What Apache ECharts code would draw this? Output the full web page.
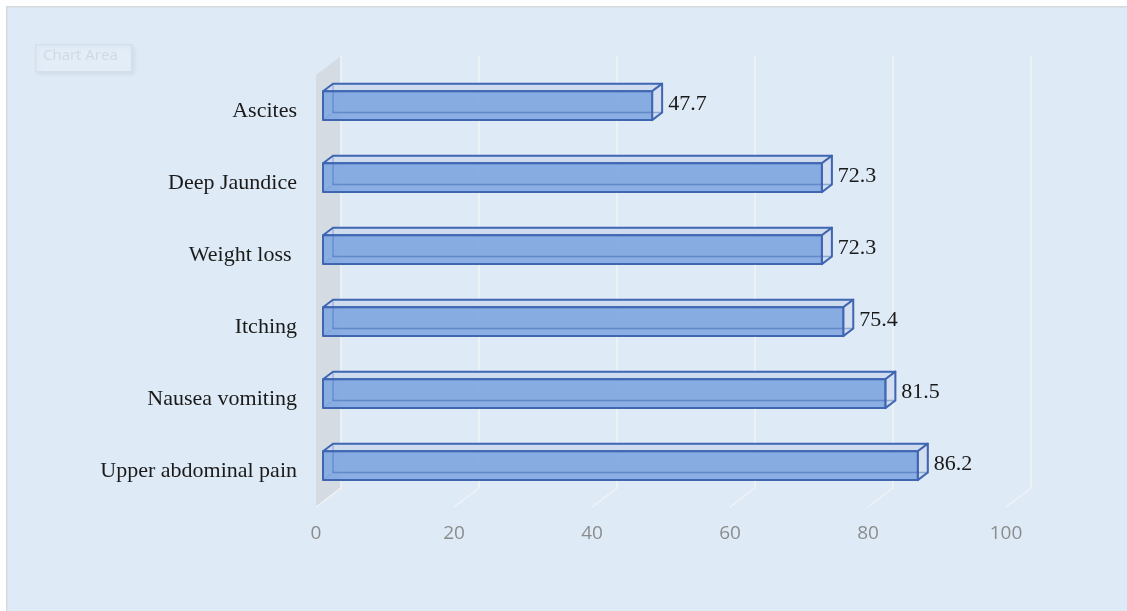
<!DOCTYPE html>
<html>
<head>
<meta charset="utf-8">
<script src="https://cdn.jsdelivr.net/npm/echarts@6/dist/echarts.min.js"></script>
<style>
html,body{margin:0;padding:0;background:#fff;}
#chart{width:1127px;height:611px;}
</style>
</head>
<body>
<div id="chart"></div>
<script>
// Data
const categories = ['Upper abdominal pain', 'Nausea vomiting', 'Itching', 'Weight loss ', 'Deep Jaundice', 'Ascites'];
const values = [86.2, 81.5, 75.4, 72.3, 72.3, 47.7];
const xTicks = [0, 20, 40, 60, 80, 100];

// 3D depth vector (front plane -> back plane), in pixels
const DX = 25, DY = -19;
const F0 = 0.28, F1 = 0.68;

const chart = echarts.init(document.getElementById('chart'), null, {renderer: 'canvas'});

function P(x, y, f) { return [x + f * DX, y + f * DY]; }

function renderFrame(params, api) {
  const t = api.value(0);
  const cs = params.coordSys;
  const bottom = cs.y + cs.height;
  const top = cs.y;
  const x = api.coord([t, 0])[0];
  const children = [];
  if (t === 0) {
    children.push({
      type: 'polygon',
      shape: {points: [[x, bottom], P(x, bottom, 1), P(x, top, 1), [x, top]]},
      style: {fill: '#d5dbe3'},
      z2: 1
    });
  }
  const fb = [x, bottom];
  const bb = P(x, bottom, 1);
  const bt = P(x, top, 1);
  children.push({
    type: 'polyline',
    shape: {points: [fb, bb, bt]},
    style: {stroke: '#f1f3f6', lineWidth: 1.5, fill: null},
    z2: 2
  });
  return {type: 'group', children: children};
}

function renderBar(params, api) {
  const v = api.value(0);
  const i = api.value(1);
  const p0 = api.coord([0, i]);
  const p1 = api.coord([v, i]);
  const h = api.size([0, 1])[1] * 0.2;
  const x0 = p0[0], x1 = p1[0];
  const yt = p0[1] - h, yb = p0[1] + h;
  const FTL = P(x0, yt, F0), FTR = P(x1, yt, F0), FBR = P(x1, yb, F0), FBL = P(x0, yb, F0);
  const BTL = P(x0, yt, F1), BTR = P(x1, yt, F1), BBR = P(x1, yb, F1), BBL = P(x0, yb, F1);
  const edge = '#3f66b1';
  const hidden = 'rgba(63,102,177,0.55)';
  const children = [
    {type: 'polygon', shape: {points: [BTL, BTR, BBR, BBL]}, style: {fill: 'rgba(134,170,224,0.35)', stroke: hidden, lineWidth: 1.5}, z2: 10},
    {type: 'line', shape: {x1: BBL[0], y1: BBL[1], x2: FBL[0], y2: FBL[1]}, style: {stroke: hidden, lineWidth: 1.5}, z2: 11},
    {type: 'polygon', shape: {points: [FTL, FTR, BTR, BTL]}, style: {fill: '#cfdcf0', stroke: edge, lineWidth: 2, lineJoin: 'round'}, z2: 12},
    {type: 'polygon', shape: {points: [FTR, BTR, BBR, FBR]}, style: {fill: '#d3def0', stroke: edge, lineWidth: 2, lineJoin: 'round'}, z2: 12},
    {type: 'polygon', shape: {points: [FTL, FTR, FBR, FBL]}, style: {fill: 'rgba(128,166,224,0.88)', stroke: edge, lineWidth: 2, lineJoin: 'round'}, z2: 13},
    {type: 'line', shape: {x1: BBL[0], y1: BBL[1], x2: BBR[0], y2: BBR[1]}, style: {stroke: 'rgba(63,102,177,0.45)', lineWidth: 1.5}, z2: 14},
    {type: 'line', shape: {x1: BTL[0], y1: BTL[1], x2: BBL[0], y2: BBL[1]}, style: {stroke: 'rgba(63,102,177,0.35)', lineWidth: 1.5}, z2: 14},
    {type: 'text', style: {
      text: String(v), x: BTR[0] + 6, y: (FTL[1] + FBL[1]) / 2 - 1,
      textAlign: 'left', textVerticalAlign: 'middle',
      font: '22px "Liberation Serif", "DejaVu Serif", serif', fill: '#1a1a1a'
    }, z2: 20}
  ];
  return {type: 'group', children: children};
}

const option = {
  backgroundColor: '#ffffff',
  animation: false,
  graphic: [
    {type: 'rect', left: 6, top: 6, shape: {width: 1130, height: 620}, style: {fill: '#deeaf6', stroke: '#d6d9dd', lineWidth: 1.5}, z: -10},
    {type: 'rect', left: 35, top: 44, shape: {width: 96, height: 27}, style: {fill: '#e3edf8', stroke: '#d3dfec', lineWidth: 1.5, shadowColor: 'rgba(0,0,0,0.05)', shadowBlur: 4, shadowOffsetX: 2, shadowOffsetY: 2}, z: -5},
    {type: 'text', left: 43, top: 48, style: {text: 'Chart Area', font: '15px "Open Sans", "Noto Sans", sans-serif', fill: '#cdd9e6'}, z: -4}
  ],
  grid: {left: 316, right: 121, top: 75, bottom: 104, containLabel: false},
  xAxis: {
    type: 'value', min: 0, max: 100, interval: 20,
    axisLine: {show: false}, axisTick: {show: false}, splitLine: {show: false},
    axisLabel: {color: '#8c8c8c', fontSize: 19, fontFamily: '"Open Sans", "Noto Sans", sans-serif', margin: 17}
  },
  yAxis: {
    type: 'category', data: categories,
    axisLine: {show: false}, axisTick: {show: false}, splitLine: {show: false},
    axisLabel: {color: '#1a1a1a', fontSize: 22, fontFamily: '"Liberation Serif", "DejaVu Serif", serif', margin: 19, padding: [6, 0, 0, 0]}
  },
  series: [
    {
      type: 'custom', renderItem: renderFrame, silent: true, z: 1,
      data: xTicks.map(t => [t, 0])
    },
    {
      type: 'custom', renderItem: renderBar, z: 5,
      data: values.map((v, i) => [v, i])
    }
  ]
};
chart.setOption(option);
</script>
</body>
</html>
